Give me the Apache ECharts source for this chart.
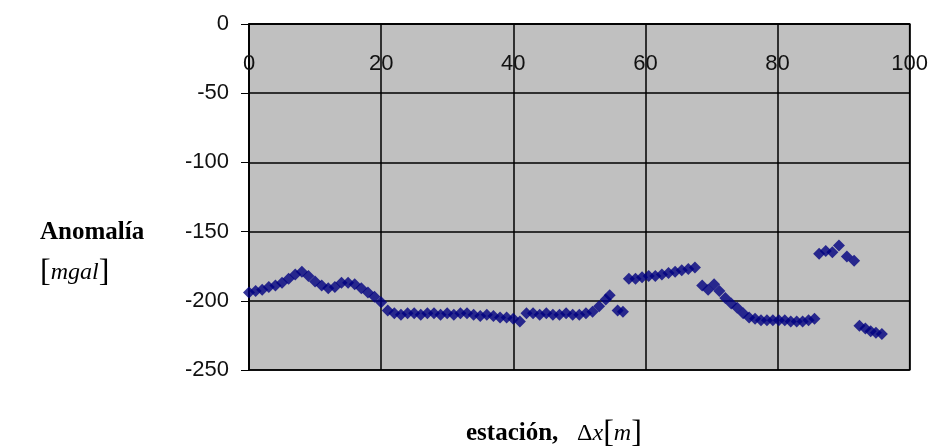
<!DOCTYPE html>
<html><head><meta charset="utf-8">
<script src="https://cdn.jsdelivr.net/npm/echarts@6/dist/echarts.min.js"></script>
<style>html,body{margin:0;padding:0;background:#fff}#c{width:931px;height:448px}</style>
</head><body><div id="c"></div>
<script>
// station positions (m)
const stationX = [
  0,1,2,3,4,5,6,7,8,9,10,11,12,13,14,15,16,17,18,19,20,
  21,22,23,24,25,26,27,28,29,30,31,32,33,34,35,36,37,38,39,40,41,
  42,43,44,45,46,47,48,49,50,51,52,53,54,54.6,55.8,56.6,
  57.5,58.5,59.5,60.5,61.5,62.5,63.5,64.5,65.5,66.5,67.5,
  68.6,69.5,70.4,71.2,72.1,73.0,73.9,74.8,75.7,76.6,77.5,78.4,79.3,80.2,81.1,82.0,82.9,83.8,84.7,85.6,
  86.3,87.3,88.3,89.3,90.5,91.6,
  92.4,93.3,94.1,94.9,95.8
];
// anomaly values (mgal)
const anomaly = [
  -194,-193,-192,-190,-189,-187,-184,-181,-179,-182,-186,-189,-191,-190,-187,-187,-188,-191,-194,-197,-201,
  -207,-209,-210,-209,-209,-210,-209,-209,-210,-209,-210,-209,-209,-210,-211,-210,-211,-212,-212,-213,-215,
  -209,-209,-210,-209,-210,-210,-209,-210,-210,-209,-208,-204,-199,-196,-207,-208,
  -184,-184,-183,-182,-182,-181,-180,-179,-178,-177,-176,
  -189,-192,-188,-193,-198,-202,-205,-209,-212,-213,-214,-214,-214,-214,-214,-215,-215,-215,-214,-213,
  -166,-164,-165,-160,-168,-171,
  -218,-220,-222,-223,-224
];
const xTicks = [0,20,40,60,80,100];
const yTicks = [0,-50,-100,-150,-200,-250];

const points = stationX.map((x,i)=>[x, anomaly[i]]);
const chart = echarts.init(document.getElementById('c'), null, {renderer:'canvas'});
const tickFont = {fontFamily:'Liberation Sans, Arial, sans-serif', fontSize:22, color:'#111'};
chart.setOption({
  animation:false,
  backgroundColor:'#fff',
  grid:{left:249, right:20, top:24, bottom:78, show:true, backgroundColor:'#c0c0c0', borderColor:'#000', borderWidth:1.5},
  xAxis:{
    type:'value', position:'top', min:xTicks[0], max:xTicks[xTicks.length-1], interval:20,
    axisLine:{show:true, onZero:false, lineStyle:{color:'#000', width:1.5}},
    axisTick:{show:false},
    axisLabel:Object.assign({inside:true, margin:29}, tickFont),
    splitLine:{show:true, lineStyle:{color:'#000', width:1.5}}
  },
  yAxis:{
    type:'value', min:yTicks[yTicks.length-1], max:yTicks[0], interval:50,
    axisLine:{show:true, lineStyle:{color:'#000', width:1.5}},
    axisTick:{show:true, inside:false, length:8, lineStyle:{color:'#000'}},
    axisLabel:Object.assign({margin:20}, tickFont),
    splitLine:{show:true, lineStyle:{color:'#000', width:1.5}}
  },
  series:[{
    type:'scatter', data:points, symbol:'diamond', symbolSize:[12,12],
    itemStyle:{color:'#000080'}
  }],
  graphic:[
    {type:'text', left:40, top:220, style:{text:'Anomalía', font:'bold 25px "Liberation Serif", "Times New Roman", serif', fill:'#000'}},
    {type:'text', left:40, top:257, style:{
      text:'{b|[}{i|mgal}{b|]}',
      rich:{
        b:{fontSize:32, fontFamily:'Liberation Serif', fill:'#000'},
        i:{fontStyle:'italic', fontSize:24, fontFamily:'Liberation Serif', fill:'#000'}
      }
    }},
    {type:'text', left:466, top:418, style:{
      text:'{t|estación,}{s|   }{d|Δ}{i|x}{b|[}{i|m}{b|]}',
      rich:{
        t:{fontWeight:'bold', fontSize:25, fontFamily:'Liberation Serif', fill:'#000'},
        s:{fontSize:25, fontFamily:'Liberation Serif'},
        d:{fontSize:24, fontFamily:'Liberation Serif', fill:'#000'},
        i:{fontStyle:'italic', fontSize:24, fontFamily:'Liberation Serif', fill:'#000'},
        b:{fontSize:32, fontFamily:'Liberation Serif', fill:'#000'}
      }
    }}
  ]
});
</script>
</body></html>
